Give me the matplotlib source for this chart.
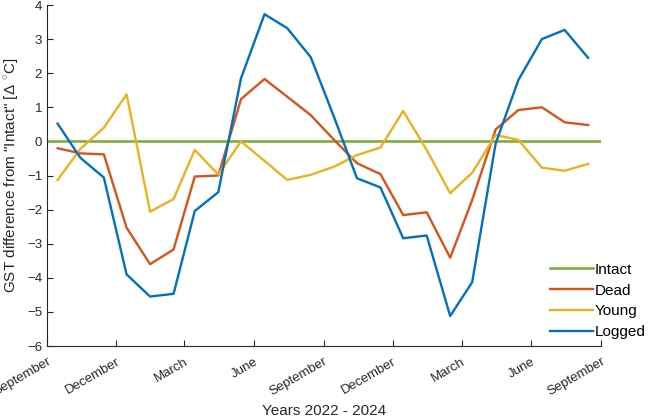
import matplotlib
matplotlib.use("Agg")
import matplotlib.pyplot as plt
import pandas as pd

plt.rcParams['font.family'] = ['Liberation Sans', 'DejaVu Sans']
plt.rcParams['mathtext.fontset'] = 'custom'
plt.rcParams['mathtext.rm'] = 'Liberation Sans'

# monthly GST differences from "Intact", Sep 2022 - Aug 2024
dates = pd.date_range('2022-09-01', periods=24, freq='MS') + pd.Timedelta(days=14)

intact_level = 0.0
dead = [-0.20, -0.35, -0.38, -2.53, -3.60, -3.17, -1.03, -1.00, 1.24, 1.83, 1.31, 0.77,
        0.04, -0.64, -0.96, -2.16, -2.08, -3.41, -1.72, 0.35, 0.92, 1.00, 0.56, 0.48]
young = [-1.13, -0.22, 0.40, 1.38, -2.06, -1.69, -0.25, -0.97, 0.00, -0.57, -1.13, -0.98,
         -0.74, -0.40, -0.18, 0.89, -0.25, -1.52, -0.92, 0.19, 0.04, -0.77, -0.86, -0.66]
logged = [0.52, -0.48, -1.06, -3.90, -4.55, -4.47, -2.04, -1.49, 1.85, 3.73, 3.32, 2.47,
          0.70, -1.08, -1.35, -2.84, -2.76, -5.12, -4.13, -0.06, 1.80, 3.00, 3.27, 2.45]

tick_dates = pd.date_range('2022-09-01', '2024-09-01', freq='3MS')
tick_labels = [d.strftime('%B') for d in tick_dates]

fig = plt.figure(figsize=(6.56, 4.19), dpi=100)
ax = fig.add_axes([47 / 656, 1 - 346 / 419, 554 / 656, 341 / 419])

ax.axhline(intact_level, color='#77AC30', lw=1.8, label='Intact')
ax.plot(dates, dead, color='#D95319', lw=1.7, label='Dead')
ax.plot(dates, young, color='#EDB120', lw=1.7, label='Young')
ax.plot(dates, logged, color='#0072BD', lw=1.7, label='Logged')

ax.set_xlim(tick_dates[0], tick_dates[-1])
ax.set_ylim(-6, 4)
ax.set_yticks(range(-6, 5))
ax.set_xticks(tick_dates)
ax.set_xticklabels(tick_labels, rotation=30, ha='right', rotation_mode='anchor')

for side in ['top', 'right']:
    ax.spines[side].set_visible(False)
for side in ['left', 'bottom']:
    ax.spines[side].set_color('#262626')
    ax.spines[side].set_linewidth(0.8)
ax.tick_params(direction='in', length=4, width=0.8, colors='#262626', labelsize=9.5)
ax.tick_params(axis='x', pad=7)

ax.set_ylabel(r'GST difference from "Intact" [$\Delta\ ^{\circ}$C]', fontsize=11, color='#262626')
ax.set_xlabel('Years 2022 - 2024', fontsize=11, color='#262626', labelpad=4)

ax.legend(loc='lower right', bbox_to_anchor=(656 / 656, 1 - 350 / 419),
          bbox_transform=fig.transFigure, frameon=False, fontsize=11,
          handlelength=2.8, handletextpad=0.1, labelspacing=0.45, borderpad=0.2)

fig.savefig('out.png', dpi=100)
